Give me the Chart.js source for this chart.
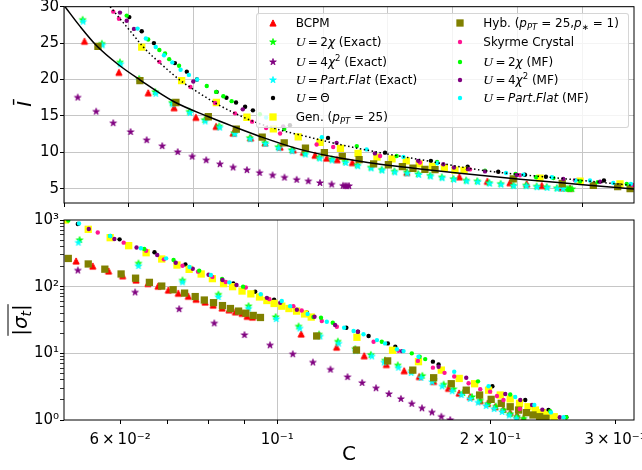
<!DOCTYPE html>
<html><head><meta charset="utf-8">
<script src="https://cdn.jsdelivr.net/npm/chart.js@4.4.1/dist/chart.umd.min.js"></script>
<style>
html,body{margin:0;padding:0;background:#fff;overflow:hidden;}
#wrap{position:relative;width:642px;height:470px;overflow:hidden;background:#fff;}
#cTop{position:absolute;left:0;top:-20px;}
#cBot{position:absolute;left:0;top:195px;}
#legendBox{position:absolute;left:256px;top:13px;width:373px;height:115px;background:rgba(255,255,255,0.8);border:1px solid rgba(204,204,204,0.8);border-radius:3px;box-sizing:border-box;}
.lab{position:absolute;height:16px;line-height:16px;white-space:nowrap;font-family:'DejaVu Sans';font-size:12px;color:#000;}
.lab sub{font-size:8.5px;vertical-align:-3px;line-height:0;}
.lab sup{font-size:8.5px;vertical-align:5px;line-height:0;}
.cal{font-family:'Liberation Serif';font-size:13.5px;font-style:italic;}
.mk{position:absolute;}
</style>
</head><body>
<div id="wrap">
<canvas id="cTop" width="642" height="233"></canvas>
<canvas id="cBot" width="700" height="275"></canvas>
<div id="legendBox"></div>
</div>
<script>
// ---------------- data ----------------
// Top panel: x = C (linear axis), y = mean I
const topBCPM = [[0.0579,25.27],[0.0712,21.0],[0.0825,18.18],[0.0925,16.14],[0.1009,14.82],[0.1087,13.57],[0.1153,12.66],[0.1220,11.99],[0.1276,11.31],[0.1334,10.73],[0.1385,10.36],[0.1424,10.03],[0.1469,9.62],[0.1514,9.22],[0.1554,9.01],[0.1613,8.61],[0.1823,7.26],[0.2026,6.65],[0.2134,6.04],[0.2221,5.84],[0.2286,5.68],[0.2344,5.46],[0.2422,5.16],[0.2453,5.09]];
const top2chiEx = [[0.0572,28.2],[0.0646,24.92],[0.0716,22.35],[0.0790,20.09],[0.0852,18.3],[0.0917,16.82],[0.0984,15.59],[0.1043,14.46],[0.1099,13.57],[0.1157,12.66],[0.1217,11.99],[0.1276,11.31],[0.1327,10.73],[0.1379,10.32],[0.1430,9.86],[0.1485,9.28],[0.1533,9.05],[0.1585,8.74],[0.1632,8.24],[0.1684,7.93],[0.1726,7.62],[0.1775,7.39],[0.1823,7.26],[0.1867,7.03],[0.1913,6.81],[0.1958,6.58],[0.2003,6.35],[0.2052,6.14],[0.2095,6.04],[0.2141,5.81],[0.2185,5.68],[0.2234,5.46],[0.2283,5.46],[0.2324,5.32],[0.2363,5.23],[0.2402,5.09],[0.2437,5.0],[0.2445,5.0],[0.2453,4.96],[0.2461,4.96]];
const top4chiEx = [[0.0553,17.53],[0.0624,15.6],[0.0690,14.01],[0.0757,12.8],[0.0819,11.68],[0.0879,10.86],[0.0939,10.05],[0.0995,9.42],[0.1049,8.92],[0.1102,8.38],[0.1153,7.93],[0.1206,7.57],[0.1255,7.19],[0.1305,6.85],[0.1351,6.54],[0.1398,6.24],[0.1443,6.04],[0.1488,5.8],[0.1533,5.59],[0.1577,5.41],[0.1585,5.38],[0.1592,5.36],[0.1600,5.38]];
const topPFEx = [[0.0574,27.95],[0.0648,24.7],[0.0718,22.1],[0.0792,19.85],[0.0854,18.05],[0.0919,16.6],[0.0986,15.4],[0.1045,14.25],[0.1101,13.4],[0.1159,12.5],[0.1219,11.8],[0.1278,11.15],[0.1329,10.55],[0.1381,10.15],[0.1432,9.7],[0.1487,9.15],[0.1535,8.9],[0.1587,8.55],[0.1634,8.1],[0.1686,7.8],[0.1728,7.5],[0.1777,7.25],[0.1825,7.1],[0.1869,6.9],[0.1915,6.68],[0.1960,6.45],[0.2005,6.25],[0.2054,6.02],[0.2097,5.92],[0.2143,5.7],[0.2187,5.57],[0.2236,5.36],[0.2285,5.35],[0.2326,5.22],[0.2365,5.13],[0.2404,5.0],[0.2426,4.98]];
const topTheta = [[0.0752,28.57],[0.0800,26.62],[0.0847,25.0],[0.0928,22.26],[0.0974,21.08],[0.1013,20.0],[0.1089,18.3],[0.1127,17.49],[0.1164,16.85],[0.1199,16.27],[0.1229,15.77],[0.1372,13.74],[0.1519,11.99],[0.1739,9.96],[0.1916,8.84],[0.2058,8.03],[0.2176,7.35],[0.2279,6.92],[0.2360,6.65],[0.2584,6.14]];
const topGen = [[0.0800,24.46],[0.0954,19.86],[0.1088,16.85],[0.1206,14.82],[0.1308,13.24],[0.1404,12.12],[0.1488,11.38],[0.1567,10.54],[0.1635,9.85],[0.1708,9.35],[0.1766,9.12],[0.1821,8.84],[0.1871,8.43],[0.1922,8.09],[0.1968,7.89],[0.2009,7.57],[0.2044,7.53],[0.2337,6.47],[0.2492,6.04],[0.2646,5.68]];
const topHyb = [[0.0631,24.55],[0.0793,19.86],[0.0932,16.85],[0.1057,14.89],[0.1165,13.18],[0.1265,12.09],[0.1350,11.31],[0.1432,10.57],[0.1505,9.96],[0.1574,9.46],[0.1639,9.01],[0.1695,8.43],[0.1752,8.30],[0.1806,8.04],[0.1847,7.82],[0.1893,7.66],[0.1932,7.62],[0.2234,6.35],[0.2423,5.73],[0.2543,5.46],[0.2637,5.30],[0.2685,5.03]];
const topSky = [[0.0690,29.32],[0.0712,28.34],[0.0868,22.43],[0.0988,18.97],[0.1083,16.78],[0.1160,15.36],[0.1226,14.22],[0.1280,13.34],[0.1334,12.6],[0.1475,11.08],[0.1539,10.73],[0.1720,9.51],[0.1874,8.61],[0.2067,7.66],[0.2260,6.85],[0.2472,6.18],[0.2696,5.5]];
const top2chiMF = [[0.0742,28.78],[0.0825,25.5],[0.0868,24.05],[0.0890,23.57],[0.0906,22.8],[0.0944,21.89],[0.1051,19.11],[0.1087,18.3],[0.1115,17.7],[0.1147,17.03],[0.1256,15.23],[0.1350,13.2],[0.1630,10.86],[0.1784,9.51],[0.1940,8.68],[0.2125,7.49],[0.2243,7.03],[0.2322,6.58],[0.2389,6.49],[0.2492,6.04],[0.2560,5.91],[0.2672,5.68]];
const top4chiMF = [[0.0716,29.19],[0.0742,28.07],[0.0770,26.95],[0.0999,19.73],[0.1190,15.91],[0.1346,13.57],[0.1552,11.31],[0.1700,9.86],[0.1867,8.84],[0.1964,8.38],[0.2005,7.93],[0.2059,7.70],[0.2125,7.39],[0.2247,6.89],[0.2427,6.35],[0.2569,5.97]];
const topPFMF = [[0.0784,26.99],[0.0816,25.64],[0.0854,24.46],[0.0886,23.34],[0.0918,22.35],[0.0950,21.35],[0.0982,20.64],[0.1014,20.0],[0.1280,14.78],[0.1495,12.08],[0.1668,10.41],[0.1810,9.38],[0.1941,8.51],[0.2206,7.16],[0.2273,6.95],[0.2383,6.58],[0.2475,6.14],[0.2530,6.14],[0.2620,5.81],[0.2688,5.68]];
const topSolidCurve = [[0.0504,30.0],[0.0562,27.3],[0.0627,24.6],[0.0708,22.1],[0.0793,19.96],[0.0925,16.95],[0.1056,14.92],[0.1152,13.57],[0.1256,12.19],[0.1411,10.41],[0.1565,9.22],[0.1720,8.38],[0.1874,7.73],[0.2028,7.12],[0.2260,6.31],[0.2491,5.6],[0.2700,4.98]];
const topDottedCurve = [[0.0678,30.0],[0.0766,26.2],[0.0805,24.5],[0.0882,21.9],[0.0952,19.8],[0.1025,18.07],[0.1094,16.58],[0.1152,15.5],[0.1229,14.28],[0.1334,13.07],[0.1411,12.39],[0.1565,11.08],[0.1720,9.96],[0.1874,9.01],[0.2117,7.53],[0.2441,6.35],[0.2696,5.46]];

// Bottom panel: x = C (log axis), y = mean |sigma_t| (log axis)
const botBCPM = [[0.0520,243],[0.0549,204],[0.0578,172],[0.0605,146],[0.0632,126],[0.0657,112],[0.0679,102],[0.0702,89],[0.0725,80],[0.0749,72],[0.0768,65],[0.0791,59],[0.0812,53],[0.0836,48],[0.0855,45],[0.0873,42],[0.0892,40],[0.0907,36],[0.0923,35],[0.1081,19.5],[0.1213,12.4],[0.1327,9.2],[0.1426,6.8],[0.1511,5.5],[0.1587,4.5],[0.1663,3.8],[0.1745,3.0],[0.1807,2.54],[0.1873,2.24],[0.1935,1.96],[0.1982,1.78],[0.2031,1.59],[0.2085,1.46],[0.2133,1.30],[0.2181,1.19],[0.2228,1.05]];
const bot2chiEx = [[0.0526,501],[0.0637,223],[0.0735,124],[0.0826,76],[0.0911,51],[0.0995,35],[0.1072,25.3],[0.1146,19.2],[0.1218,15.0],[0.1289,11.6],[0.1356,9.5],[0.1420,7.8],[0.1480,6.6],[0.1549,5.4],[0.1603,4.6],[0.1663,4.0],[0.1718,3.4],[0.1774,2.9],[0.1829,2.54],[0.1884,2.21],[0.1935,1.96],[0.1984,1.74],[0.2036,1.59],[0.2087,1.41],[0.2133,1.23],[0.2181,1.12],[0.2228,1.05]];
const bot4chiEx = [[0.0523,175],[0.0630,82],[0.0727,46],[0.0815,28.2],[0.0899,18.8],[0.0977,13.2],[0.1052,9.7],[0.1123,7.3],[0.1189,5.7],[0.1257,4.4],[0.1318,3.6],[0.1379,3.0],[0.1438,2.45],[0.1495,2.07],[0.1549,1.75],[0.1601,1.50],[0.1654,1.30],[0.1705,1.12],[0.1755,1.0]];
const botPFEx = [[0.0524,457],[0.0637,204],[0.0735,116],[0.0826,70],[0.0911,47],[0.0997,32.7],[0.1076,23.6],[0.1150,17.9],[0.1221,14.0],[0.1291,10.8],[0.1360,9.0],[0.1416,7.3],[0.1483,6.1],[0.1546,5.1],[0.1597,4.3],[0.1655,3.7],[0.1710,3.2],[0.1767,2.7],[0.1820,2.37],[0.1873,2.07],[0.1922,1.83],[0.1973,1.62],[0.2025,1.46],[0.2078,1.32],[0.2126,1.17],[0.2176,1.05]];
const botTheta = [[0.0523,871],[0.0599,513],[0.0671,328],[0.0742,215],[0.0867,112],[0.0931,84],[0.0990,64],[0.1101,41],[0.1252,24.2],[0.1300,21.1],[0.1346,18.2],[0.1433,14.1],[0.1468,12.6],[0.1659,7.5],[0.1690,6.8],[0.2013,3.2],[0.2240,2.0],[0.2416,1.41],[0.2560,1.10]];
const botGen = [[0.0502,1000],[0.0541,725],[0.0581,543],[0.0617,412],[0.0653,323],[0.0687,260],[0.0722,211],[0.0751,182],[0.0781,155],[0.0810,132],[0.0840,111],[0.0865,100],[0.0892,86],[0.0918,78],[0.0944,70],[0.0967,62],[0.0990,56],[0.1015,51],[0.1039,47],[0.1065,43],[0.1093,39],[0.1117,35],[0.1296,17.4],[0.1455,11.1],[0.1583,7.5],[0.1705,5.6],[0.1807,4.2],[0.1900,3.5],[0.1988,2.8],[0.2065,2.37],[0.2133,2.07],[0.2199,1.78],[0.2260,1.58],[0.2315,1.41],[0.2368,1.29],[0.2416,1.19],[0.2461,1.12]];
const botHyb = [[0.0507,265],[0.0541,219],[0.0571,183],[0.0602,155],[0.0631,134],[0.0660,116],[0.0687,102],[0.0713,90],[0.0740,80],[0.0766,71],[0.0789,63],[0.0813,57.5],[0.0837,52],[0.0859,47],[0.0882,43],[0.0903,40],[0.0925,37],[0.0947,34.5],[0.1137,18.2],[0.1294,11.2],[0.1432,7.7],[0.1554,5.6],[0.1663,4.3],[0.1761,3.5],[0.1849,2.8],[0.1931,2.37],[0.2005,2.04],[0.2072,1.78],[0.2133,1.58],[0.2192,1.41],[0.2248,1.29],[0.2297,1.19],[0.2347,1.12],[0.2396,1.06]];
const botSky = [[0.0558,649],[0.0607,457],[0.0653,346],[0.0692,257],[0.0735,206],[0.0773,168],[0.0810,140],[0.0846,117.5],[0.0903,97],[0.0975,65],[0.1054,51],[0.1083,44],[0.1156,30.5],[0.1214,25.1],[0.1368,14.9],[0.1483,10.9],[0.1580,7.7],[0.1659,6.1],[0.1723,5.1],[0.1778,4.5],[0.1863,3.55],[0.1935,2.9],[0.1998,2.66],[0.2043,2.29],[0.2087,2.0],[0.2201,1.46]];
const bot2chiMF = [[0.0507,983],[0.0581,575],[0.0649,367],[0.0714,251],[0.0776,174],[0.0836,130],[0.0895,100],[0.1125,35],[0.1153,34.2],[0.1198,28.8],[0.1405,14.9],[0.1549,10.0],[0.1589,8.9],[0.1618,8.2],[0.1921,3.8],[0.2133,2.41],[0.2429,1.36],[0.2560,1.10]];
const bot4chiMF = [[0.0542,733],[0.0589,519],[0.0633,387],[0.0677,299],[0.0719,229],[0.0760,186],[0.0800,151],[0.0837,126],[0.0876,106],[0.0967,68],[0.1010,57.5],[0.1066,45],[0.1129,35.4],[0.1207,26.6],[0.1300,21.1],[0.1500,10.8],[0.1690,6.3],[0.1849,4.3],[0.2099,2.45],[0.2204,2.0],[0.2290,1.68],[0.2368,1.43],[0.2506,1.10]];
const botPFMF = [[0.0525,886],[0.0581,575],[0.0642,376],[0.0697,266],[0.0752,197],[0.0806,150],[0.0856,116],[0.0948,77],[0.1015,61],[0.1043,51],[0.1104,39],[0.1175,29.8],[0.1243,24.2],[0.1282,21.6],[0.1324,19.3],[0.1383,15.8],[0.1420,14.1],[0.1476,11.5],[0.1508,10.8],[0.1583,8.9],[0.1778,5.3],[0.1988,3.2],[0.2168,2.21],[0.2307,1.68],[0.2435,1.30],[0.2537,1.10]];

// tick positions / labels
const topXTicks = [0.05,0.075,0.1,0.125,0.15,0.175,0.2,0.225,0.25];
const topYTicks = [5,10,15,20,25,30];
const botXTicks = [0.06,0.07,0.08,0.09,0.1,0.2,0.3];
const botXLabels = ['6\u2009×\u200910⁻²','','','','10⁻¹','2\u2009×\u200910⁻¹','3\u2009×\u200910⁻¹'];
const botYTicks = [1,2,3,4,5,6,7,8,9,10,20,30,40,50,60,70,80,90,100,200,300,400,500,600,700,800,900,1000];
const botYLabelMap = {1:'10⁰',10:'10¹',100:'10²',1000:'10³'};

// legend labels (same order as series)
const U = '<span class="cal">U</span>';
const legendLabels = [
  'BCPM',
  U+'\u2009=\u20092<i>χ</i> (Exact)',
  U+'\u2009=\u20094<i>χ</i><sup>2</sup> (Exact)',
  U+'\u2009=\u2009<i>Part</i>.<i>Flat</i> (Exact)',
  U+'\u2009=\u2009Θ',
  'Gen. (<i>p</i><sub><i>PT</i></sub> = 25)',
  'Hyb. (<i>p</i><sub><i>PT</i></sub> = 25,<i>p</i><sub>∗</sub> = 1)',
  'Skyrme Crystal',
  U+'\u2009=\u20092<i>χ</i> (MF)',
  U+'\u2009=\u20094<i>χ</i><sup>2</sup> (MF)',
  U+'\u2009=\u2009<i>Part</i>.<i>Flat</i> (MF)'
];

const series = [
  {color:'#ff0000', marker:'triangle', top:topBCPM,   bot:botBCPM},
  {color:'#00ff00', marker:'star',     top:top2chiEx, bot:bot2chiEx},
  {color:'#800080', marker:'star',     top:top4chiEx, bot:bot4chiEx},
  {color:'#00ffff', marker:'star',     top:topPFEx,   bot:botPFEx},
  {color:'#000000', marker:'dot',      top:topTheta,  bot:botTheta},
  {color:'#ffff00', marker:'square',   top:topGen,    bot:botGen},
  {color:'#808000', marker:'square',   top:topHyb,    bot:botHyb},
  {color:'#ff1493', marker:'dot',      top:topSky,    bot:botSky},
  {color:'#00ff00', marker:'dot',      top:top2chiMF, bot:bot2chiMF},
  {color:'#800080', marker:'dot',      top:top4chiMF, bot:bot4chiMF},
  {color:'#00ffff', marker:'dot',      top:topPFMF,   bot:botPFMF}
];

// ---------------- styling helpers ----------------
const GRID = '#c6c6c6';
const FONT = "'DejaVu Sans'";

function paintMarker(g, kind, color, cx, cy) {
  g.fillStyle = color; g.strokeStyle = color;
  if (kind === 'triangle') {
    const h = 3.1;
    g.beginPath(); g.moveTo(cx, cy - h); g.lineTo(cx - h, cy + h); g.lineTo(cx + h, cy + h); g.closePath();
    g.fill(); g.lineWidth = 1; g.lineJoin = 'miter'; g.stroke();
  } else if (kind === 'star') {
    const R = 3.5, r = R * 0.382;
    g.beginPath();
    for (let i = 0; i < 10; i++) {
      const rr = (i % 2) ? r : R; const a = -Math.PI / 2 + i * Math.PI / 5;
      const px = cx + rr * Math.cos(a), py = cy + rr * Math.sin(a);
      if (i === 0) g.moveTo(px, py); else g.lineTo(px, py);
    }
    g.closePath(); g.fill(); g.lineWidth = 0.8; g.lineJoin = 'miter'; g.stroke();
  } else if (kind === 'square') {
    g.fillRect(cx - 3.65, cy - 3.65, 7.3, 7.3);
  } else {
    g.beginPath(); g.arc(cx, cy, 2.2, 0, Math.PI * 2); g.fill();
  }
}
function markerImage(kind, color) {
  const c = document.createElement('canvas'); c.width = 14; c.height = 14;
  paintMarker(c.getContext('2d'), kind, color, 7, 7); return c;
}
function pointOpts(kind, color) {
  if (kind === 'triangle' || kind === 'star') {
    return {pointStyle: markerImage(kind, color), pointRadius: 4, pointBorderWidth: 0, pointBackgroundColor: color, pointBorderColor: color};
  }
  if (kind === 'square') return {pointStyle: 'rect', pointRadius: 5.16, pointBorderWidth: 0, pointBackgroundColor: color, pointBorderColor: color};
  return {pointStyle: 'circle', pointRadius: 2.2, pointBorderWidth: 0, pointBackgroundColor: color, pointBorderColor: color};
}
const toXY = arr => arr.map(([x, y]) => ({x, y}));

const boxPlugin = {
  id: 'box',
  afterDraw(chart) {
    const a = chart.chartArea, g = chart.ctx;
    g.save(); g.strokeStyle = '#000'; g.lineWidth = 1;
    g.strokeRect(a.left, a.top, a.right - a.left, a.bottom - a.top); g.restore();
  }
};

Chart.defaults.font.family = FONT;
Chart.defaults.color = '#000';
Chart.defaults.animation = false;

// ---------------- top chart ----------------
const topDatasets = series.map((s, i) => Object.assign({
  type: 'scatter', data: toXY(s.top), order: -i, clip: 0
}, pointOpts(s.marker, s.color)));
topDatasets.push({type: 'scatter', data: toXY(topSolidCurve), showLine: true, borderColor: '#000', borderWidth: 1.5,
  pointRadius: 0, cubicInterpolationMode: 'monotone', order: -30, clip: 0});
topDatasets.push({type: 'scatter', data: toXY(topDottedCurve), showLine: true, borderColor: '#000', borderWidth: 1.5,
  borderDash: [1.5, 2.5], pointRadius: 0, cubicInterpolationMode: 'monotone', order: -31, clip: 0});

new Chart(document.getElementById('cTop'), {
  type: 'scatter',
  data: {datasets: topDatasets},
  options: {
    responsive: false, events: [],
    layout: {padding: {left: 0, right: 8, top: 26.7, bottom: 0}},
    plugins: {legend: {display: false}, tooltip: {enabled: false}},
    scales: {
      x: {type: 'linear', min: 0.05, max: 0.27,
        afterBuildTicks: s => { s.ticks = topXTicks.map(v => ({value: v})); },
        afterFit: s => { s.height = 7; },
        ticks: {callback: () => '', autoSkip: false, maxRotation: 0},
        grid: {color: GRID, lineWidth: 1, tickColor: '#000', tickLength: 4, tickWidth: 1},
        border: {display: false}},
      y: {type: 'linear', min: 3.05, max: 30,
        afterBuildTicks: s => { s.ticks = topYTicks.map(v => ({value: v})); },
        afterFit: s => { s.width = 64; },
        ticks: {font: {size: 15}, padding: 1, autoSkip: false, callback: v => String(v)},
        grid: {color: GRID, lineWidth: 1, tickColor: '#000', tickLength: 4, tickWidth: 1},
        border: {display: false}}
    }
  },
  plugins: [boxPlugin, {
    id: 'ttlTop',
    afterDraw(chart) {
      const a = chart.chartArea, g = chart.ctx;
      g.save(); g.translate(26, (a.top + a.bottom) / 2 - 1); g.rotate(-Math.PI / 2);
      g.font = "italic 20px " + FONT; g.textAlign = 'center'; g.textBaseline = 'middle'; g.fillStyle = '#000';
      g.fillText('Ī', 0, 0); g.restore();
    }
  }]
});

// ---------------- bottom chart ----------------
const botDatasets = series.map((s, i) => Object.assign({
  type: 'scatter', data: toXY(s.bot), order: -i, clip: 0
}, pointOpts(s.marker, s.color)));

new Chart(document.getElementById('cBot'), {
  type: 'scatter',
  data: {datasets: botDatasets},
  options: {
    responsive: false, events: [],
    layout: {padding: {left: 0, right: 66, top: 25, bottom: 0}},
    plugins: {legend: {display: false}, tooltip: {enabled: false}},
    scales: {
      x: {type: 'logarithmic', min: 0.05, max: 0.319,
        afterBuildTicks: s => { s.ticks = botXTicks.map(v => ({value: v})); },
        afterFit: s => { s.height = 50; },
        ticks: {font: {size: 15}, padding: 7, autoSkip: false, maxRotation: 0, minRotation: 0,
          callback: (v, i) => botXLabels[i]},
        grid: {color: c => (c.tick && Math.abs(c.tick.value - 0.1) < 1e-9) ? GRID : 'rgba(0,0,0,0)',
          lineWidth: 1, tickColor: '#000', tickLength: 4, tickWidth: 1},
        border: {display: false}},
      y: {type: 'logarithmic', min: 1, max: 1000,
        afterBuildTicks: s => { s.ticks = botYTicks.map(v => ({value: v})); },
        afterFit: s => { s.width = 64; },
        ticks: {font: {size: 15}, padding: 1, autoSkip: false, callback: v => botYLabelMap[v] || ''},
        grid: {color: c => (c.tick && (c.tick.value === 10 || c.tick.value === 100)) ? GRID : 'rgba(0,0,0,0)',
          lineWidth: 1, tickColor: '#000', tickLength: c => 4, tickWidth: c => (botYLabelMap[c.tick && c.tick.value] ? 1 : 0.8)},
        border: {display: false}}
    }
  },
  plugins: [boxPlugin, {
    id: 'ttlBot',
    afterDraw(chart) {
      const a = chart.chartArea, g = chart.ctx;
      g.save(); g.fillStyle = '#000'; g.strokeStyle = '#000';
      // x title
      g.font = "20px " + FONT; g.textAlign = 'center'; g.textBaseline = 'middle';
      g.fillText('C', (a.left + a.right) / 2, 260);
      // y title |sigma_t| with overline
      g.translate(19, (a.top + a.bottom) / 2); g.rotate(-Math.PI / 2);
      g.textAlign = 'left'; g.textBaseline = 'alphabetic';
      const parts = [['|', "20px " + FONT, 0], ['σ', "italic 20px " + FONT, 0], ['t', "italic 14px " + FONT, 4], ['|', "20px " + FONT, 0]];
      let w = 0; parts.forEach(p => { g.font = p[1]; p.push(g.measureText(p[0]).width); w += p[3]; });
      let x = -w / 2; const base = 8;
      parts.forEach(p => { g.font = p[1]; g.fillText(p[0], x, base + p[2]); x += p[3]; });
      g.lineWidth = 1; g.beginPath(); g.moveTo(-w / 2, base - 19); g.lineTo(w / 2, base - 19); g.stroke();
      g.restore();
    }
  }]
});

// ---------------- legend (HTML overlay) ----------------
const legendRowsY = [23.3, 41.7, 61.7, 80, 98.3, 116.7];
const wrap = document.getElementById('wrap');
series.forEach((s, i) => {
  const col = i < 6 ? 0 : 1, row = i < 6 ? i : i - 6;
  const mx = col ? 460 : 272.7, tx = col ? 483.3 : 295.7, y = legendRowsY[row];
  const c = markerImage(s.marker, s.color); c.className = 'mk';
  c.style.left = (mx - 7) + 'px'; c.style.top = (y - 7) + 'px'; wrap.appendChild(c);
  const d = document.createElement('div'); d.className = 'lab';
  d.style.left = tx + 'px'; d.style.top = (y - 8) + 'px'; d.innerHTML = legendLabels[i]; wrap.appendChild(d);
});
</script>
</body></html>
